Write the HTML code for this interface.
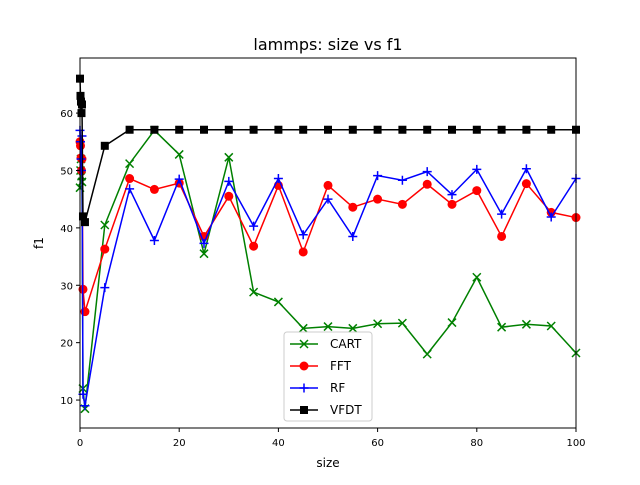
<!DOCTYPE html>
<html><head><meta charset="utf-8"><style>
body{margin:0;background:#fff;font-family:"Liberation Sans","DejaVu Sans",sans-serif}
</style></head><body>
<svg id="chart" width="640" height="480" xmlns="http://www.w3.org/2000/svg">
<rect width="640" height="480" fill="#fff"/>
<text x="328" y="50" font-size="16" text-anchor="middle" font-family="DejaVu Sans, sans-serif">lammps: size vs f1</text>
<g id="marks"></g>
<g id="axes"></g>
</svg>
<script>
const xVals=[0,0.1,0.2,0.3,0.4,0.6,1,5,10,15,20,25,30,35,40,45,50,55,60,65,70,75,80,85,90,95,100];
const cartVals=[47,50,52,49,48,12,8.5,40.5,51.2,57,52.8,35.5,52.3,28.8,27.1,22.5,22.8,22.5,23.3,23.4,18,23.5,31.4,22.7,23.2,22.9,18.2];
const fftVals=[55,54.3,52.2,50,52,29.3,25.4,36.3,48.6,46.7,47.8,38.5,45.5,36.8,47.4,35.8,47.4,43.6,45,44.1,47.6,44.1,46.5,38.5,47.7,42.7,41.8];
const rfVals=[57,55,52,50,56,11,9,29.6,46.8,37.8,48.5,37.3,48.1,40.3,48.6,38.8,45,38.5,49.1,48.3,49.8,45.8,50.2,42.4,50.3,41.9,48.6];
const vfdtVals=[66,63,62,60,61.5,42,41,54.3,57.1,57.1,57.1,57.1,57.1,57.1,57.1,57.1,57.1,57.1,57.1,57.1,57.1,57.1,57.1,57.1,57.1,57.1,57.1];
const xTicks=[0,20,40,60,80,100];
const yTicks=[10,20,30,40,50,60];
const seriesNames=["CART","FFT","RF","VFDT"];
const L=80,R=576,T=58,B=428,yMin=5.13,yMax=69.6;
const sx=v=>L+(v-0)/(100-0)*(R-L);
const sy=v=>B-(v-yMin)/(yMax-yMin)*(B-T);
const NS="http://www.w3.org/2000/svg";
function mk(tag,attrs,parent){const e=document.createElementNS(NS,tag);for(const k in attrs)e.setAttribute(k,attrs[k]);parent.appendChild(e);return e;}
const marks=document.getElementById('marks'),axes=document.getElementById('axes');
const series=[[cartVals,'green','x'],[fftVals,'red','o'],[rfVals,'blue','+'],[vfdtVals,'black','s']];
function marker(g,type,col,x,y){
  let m;
  if(type==='o'){m=mk('circle',{cx:x,cy:y,r:4.5,fill:col},g);}
  else if(type==='s'){m=mk('rect',{x:x-4,y:y-4,width:8,height:8,fill:col},g);}
  else if(type==='x'){m=mk('path',{d:`M${x-4},${y-4}L${x+4},${y+4}M${x-4},${y+4}L${x+4},${y-4}`,stroke:col,'stroke-width':1.5,fill:'none'},g);}
  else {m=mk('path',{d:`M${x-4.5},${y}L${x+4.5},${y}M${x},${y-4.5}L${x},${y+4.5}`,stroke:col,'stroke-width':1.5,fill:'none'},g);}
  
  
}
series.forEach((s,i)=>{
  const g=mk('g',{},marks);
  
  
  const pts=xVals.map((x,j)=>sx(x)+','+sy(s[0][j])).join(' ');
  const pl=mk('polyline',{points:pts,fill:'none',stroke:s[1],'stroke-width':1.5},g);
  
  
  xVals.forEach((x,j)=>marker(g,s[2],s[1],sx(x),sy(s[0][j])));
});
const fr=mk('rect',{x:L,y:T,width:R-L,height:B-T,fill:'none',stroke:'#000','stroke-width':1},axes);


xTicks.forEach(t=>{
  mk('line',{x1:sx(t),x2:sx(t),y1:B,y2:B+4,stroke:'#000'},axes);
  const tx=mk('text',{x:sx(t),y:B+18,'font-size':10,'text-anchor':'middle','font-family':'DejaVu Sans, sans-serif'},axes);
  tx.textContent=t;
  
  
});
yTicks.forEach(t=>{
  mk('line',{x1:L-4,x2:L,y1:sy(t),y2:sy(t),stroke:'#000'},axes);
  const tx=mk('text',{x:L-7,y:sy(t)+4,'font-size':10,'text-anchor':'end','font-family':'DejaVu Sans, sans-serif'},axes);
  tx.textContent=t;
  
  
});
const xl=mk('text',{x:328,y:467,'font-size':12,'text-anchor':'middle','font-family':'DejaVu Sans, sans-serif'},axes);
xl.textContent='size';


const yl=mk('text',{x:43,y:243,'font-size':12,'text-anchor':'middle','font-family':'DejaVu Sans, sans-serif',transform:'rotate(-90 43 243)'},axes);
yl.textContent='f1';


const lg=mk('g',{},axes);


mk('rect',{x:284,y:332,width:88,height:89,rx:3,fill:'#fff','fill-opacity':0.8,stroke:'#ccc'},lg);
series.forEach((s,i)=>{
  const y=344+i*22;
  const e=mk('g',{},lg);
  
  
  mk('line',{x1:290,x2:318,y1:y,y2:y,stroke:s[1],'stroke-width':1.5},e);
  marker(e,s[2],s[1],304,y);
  const t=mk('text',{x:330,y:y+4,'font-size':12,'font-family':'DejaVu Sans, sans-serif'},e);
  t.textContent=seriesNames[i];
});
</script>
</body></html>
